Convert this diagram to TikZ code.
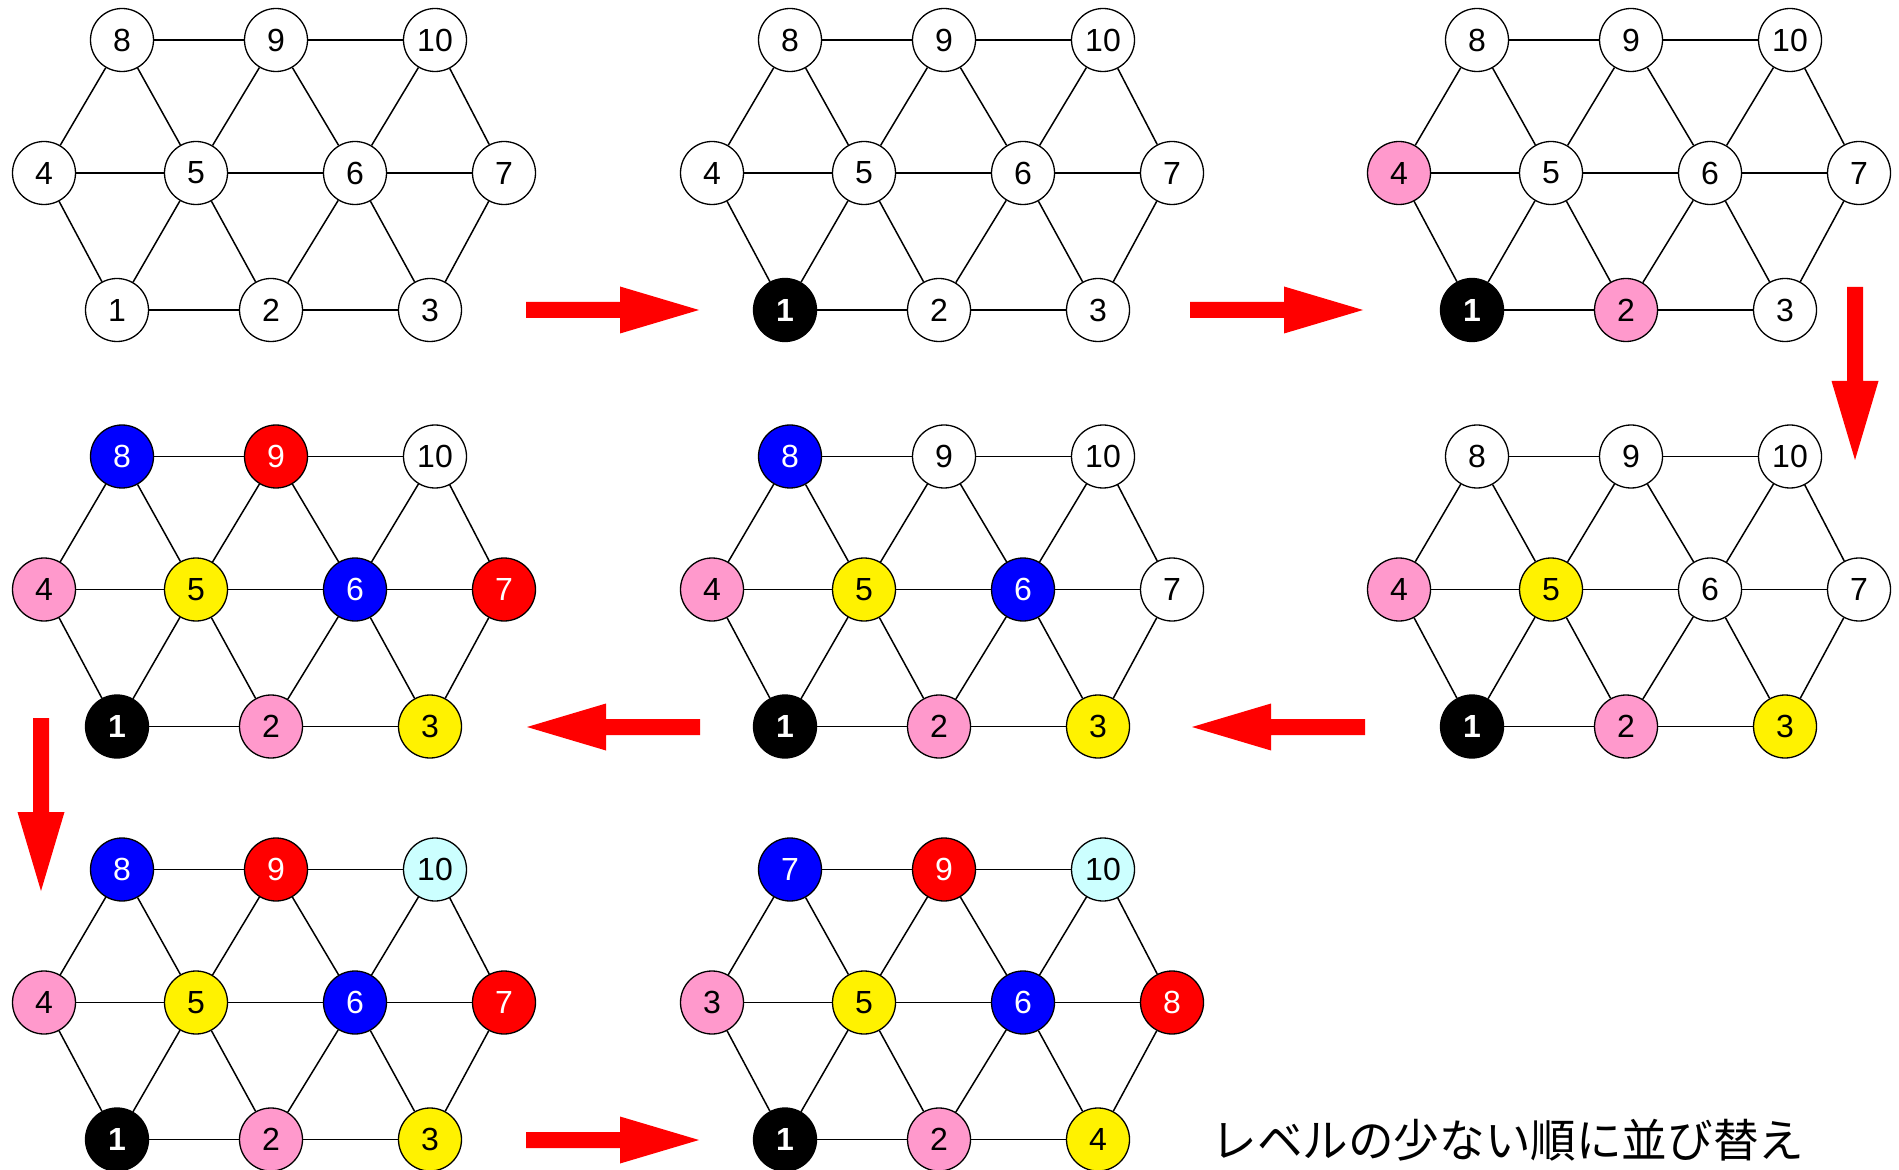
\documentclass[tikz,border=0pt]{standalone}
\usepackage{fontspec}
\setmainfont{Liberation Sans}
\newfontfamily\jpfont{Noto Sans CJK JP}

\definecolor{pnk}{RGB}{255,153,204}
\definecolor{lcyan}{RGB}{204,255,255}

\tikzset{
  vtx/.style={circle,draw=black,line width=0.65pt,minimum size=31.5pt,inner sep=0pt,
    fill=white,font=\fontsize{16}{19}\selectfont},
  wh/.style={},
  bk/.style={fill=black,text=white,font=\fontsize{16}{19}\selectfont\bfseries},
  pk/.style={fill=pnk},
  ye/.style={fill=yellow},
  bl/.style={fill=blue,text=white},
  rd/.style={fill=red,text=white},
  cy/.style={fill=lcyan},
  edge/.style={line width=0.75pt}
}

% one lattice: shift, name prefix, style/label of nodes 1..10
\newcommand\lattice[3]{%
  \begin{scope}[shift={#1}]
    \foreach \x/\y [count=\i] in {117/310,271/310,430/310,44/173,196/173,355/173,504/173,122/40,276/40,435/40}
      \coordinate (#2p\i) at (\x,\y);
    \foreach \sty/\lab [count=\i] in {#3}
      \node[vtx,\sty] (#2\i) at (#2p\i) {\lab};
    \foreach \a/\b in {1/2,2/3,4/5,5/6,6/7,8/9,9/10,1/4,1/5,2/5,2/6,3/6,3/7,4/8,5/8,5/9,6/9,6/10,7/10}
      \draw[edge] (#2\a) -- (#2\b);
  \end{scope}}

\begin{document}
\begin{tikzpicture}[x=0.5pt,y=-0.5pt]
\useasboundingbox (0,0) rectangle (1899,1170);

\lattice{(0,0)}{a}{wh/1,wh/2,wh/3,wh/4,wh/5,wh/6,wh/7,wh/8,wh/9,wh/10}
\lattice{(668,0)}{b}{bk/1,wh/2,wh/3,wh/4,wh/5,wh/6,wh/7,wh/8,wh/9,wh/10}
\lattice{(1355,0)}{c}{bk/1,pk/2,wh/3,pk/4,wh/5,wh/6,wh/7,wh/8,wh/9,wh/10}
\lattice{(1355,416.5)}{d}{bk/1,pk/2,ye/3,pk/4,ye/5,wh/6,wh/7,wh/8,wh/9,wh/10}
\lattice{(668,416.5)}{e}{bk/1,pk/2,ye/3,pk/4,ye/5,bl/6,wh/7,bl/8,wh/9,wh/10}
\lattice{(0,416.5)}{f}{bk/1,pk/2,ye/3,pk/4,ye/5,bl/6,rd/7,bl/8,rd/9,wh/10}
\lattice{(0,829.5)}{g}{bk/1,pk/2,ye/3,pk/4,ye/5,bl/6,rd/7,bl/8,rd/9,cy/10}
\lattice{(668,829.5)}{h}{bk/1,pk/2,ye/4,pk/3,ye/5,bl/6,rd/8,bl/7,rd/9,cy/10}

% block arrows between the steps
\foreach \x/\y/\r in {526/310/0,1190/310/0,1855/287/-90,1365/727/180,700/727/180,41/718/-90,526/1140/0}
  \fill[red,shift={(\x,\y)},rotate=\r] (0,-8) -- (94,-8) -- (94,-23.5) -- (173,0) -- (94,23.5) -- (94,8) -- (0,8) -- cycle;

\node[anchor=west,inner sep=0pt,font=\jpfont\fontsize{22.8}{27}\selectfont] (caption) at (1211,1140) {レベルの少ない順に並び替え};
\end{tikzpicture}
\end{document}
